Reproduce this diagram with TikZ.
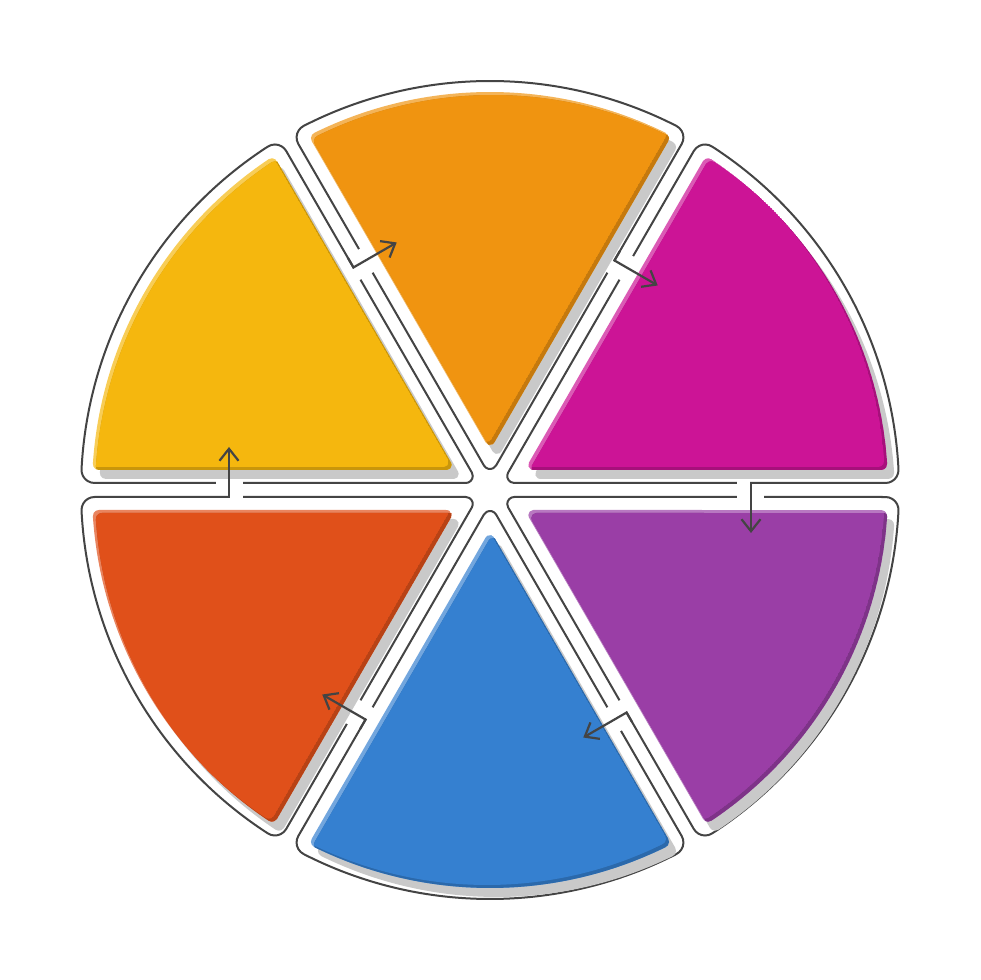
\documentclass[tikz,border=0pt]{standalone}
\usetikzlibrary{arrows.meta}
\definecolor{cOrange}{HTML}{F09410}
\definecolor{cMagenta}{HTML}{CC1496}
\definecolor{cPurple}{HTML}{9A3EA6}
\definecolor{cBlue}{HTML}{3580D0}
\definecolor{cRed}{HTML}{E0501A}
\definecolor{cYellow}{HTML}{F5B70E}
\definecolor{outlinegray}{HTML}{444444}
\definecolor{shadowgray}{HTML}{C9C9C9}
% #1 path options, #2 rotation, #3 dx, #4 dy, #5 edge offset, #6 radius, #7 outer corner radius, #8 tip radius
\newcommand\sectorshape[8]{%
  \pgfmathsetmacro\wq{(#5+#7)/(#6-#7)}%
  \pgfmathsetmacro\ws{(#6-#7)*sqrt(1-\wq*\wq)}%
  \pgfmathsetmacro\wphi{30-atan((#5+#7)/\ws)}%
  \pgfmathsetmacro\wphiend{360-\wphi}%
  \pgfmathsetmacro\wtx{2*(#5+#8)-0.5*#8}%
  \pgfmathsetmacro\wty{0.866025*#8}%
  \pgfmathsetmacro\wlx{0.866025*\ws+0.5*#5}%
  \pgfmathsetmacro\wly{-0.5*\ws+0.866025*#5}%
  \path[shift={(490+#3,490+#4)},rotate=#2,#1]
    (\wtx,-\wty) -- (\wlx,\wly)
    arc[start angle=240,end angle=\wphiend,radius=#7]
    arc[start angle=-\wphi,end angle=\wphi,radius=#6]
    arc[start angle=\wphi,end angle=120,radius=#7]
    -- (\wtx,\wty)
    arc[start angle=120,end angle=240,radius=#8] -- cycle;}
\tikzset{
  arrowline/.style={draw=outlinegray,line width=2.2pt,line join=miter,
    -{Straight Barb[length=12pt,width=19pt]}},
}
\begin{document}
\begin{tikzpicture}[x=1pt,y=1pt]
\useasboundingbox (0,0) rectangle (980,980);
\fill[white] (0,0) rectangle (980,980);
% outlines
\foreach \a in {90,30,-30,-90,210,150}{
  \sectorshape{draw=outlinegray,line width=2pt}{\a}{0}{0}{7}{409}{13}{7}
}
% breaks in the outlines where the arrows pass
\foreach \t in {180,120,60,0,-60,-120}{
  \begin{scope}[shift={(490,490)},rotate=\t]
    \fill[white] (247,3) rectangle (260,11);
    \fill[white] (247,-11) rectangle (274,-3);
  \end{scope}
}
% coloured sectors
\foreach \a/\c in {90/cOrange,30/cMagenta,-30/cPurple,-90/cBlue,210/cRed,150/cYellow}{
  \sectorshape{fill=shadowgray}{\a}{7}{-9}{20}{398}{6}{5}
  \begin{scope}
    \sectorshape{clip}{\a}{0}{0}{20}{398}{6}{5}
    \sectorshape{fill=\c!70!white}{\a}{0}{0}{20}{398}{6}{5}
    \begin{scope}
      \sectorshape{clip}{\a}{3}{-3}{20}{398}{6}{5}
      \sectorshape{fill=\c!82!black}{\a}{3}{-3}{20}{398}{6}{5}
      \sectorshape{clip}{\a}{-3}{3}{20}{398}{6}{5}
      \sectorshape{fill=\c}{\a}{-3}{3}{20}{398}{6}{5}
    \end{scope}
  \end{scope}
}
% arrows (clockwise flow)
\foreach \t in {180,120,60,0,-60,-120}{
  \begin{scope}[shift={(490,490)},rotate=\t]
    \coordinate (s\t) at (272,7);
    \coordinate (k\t) at (261,7);
    \coordinate (e\t) at (261,-43);
    \draw[arrowline] (s\t) -- (k\t) -- (e\t);
  \end{scope}
}
\end{tikzpicture}
\end{document}
